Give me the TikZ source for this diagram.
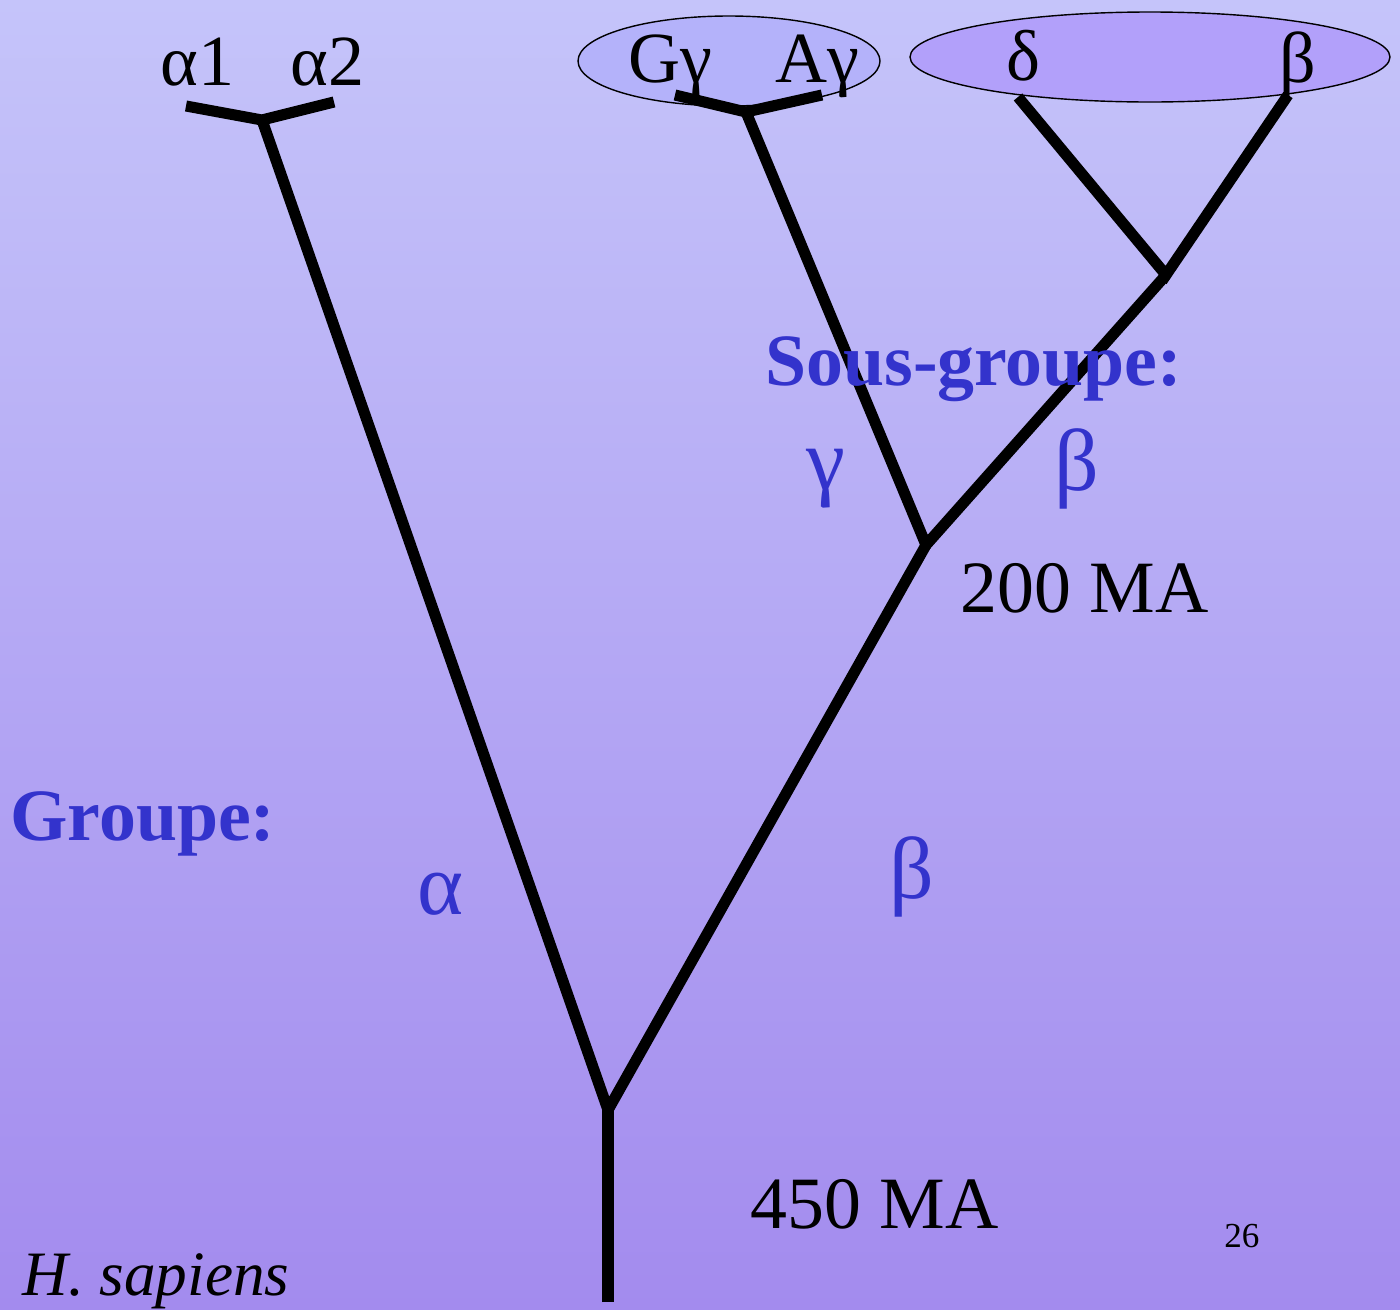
\documentclass[tikz,border=0pt]{standalone}
\usepackage{fontspec}
\setmainfont{Liberation Serif}
\definecolor{bgtop}{RGB}{197,196,250}
\definecolor{bgbot}{RGB}{163,139,238}
\definecolor{grpblue}{RGB}{51,51,204}
\definecolor{ovgamma}{RGB}{180,178,250}
\definecolor{ovbeta}{RGB}{178,160,250}
\tikzset{
  branch/.style={line width=6.3pt},
  tip/.style={anchor=base west,font=\fontsize{41}{46}\selectfont},
  age/.style={anchor=base west,font=\fontsize{42}{48}\selectfont},
  grp/.style={anchor=base west,text=grpblue,font=\fontsize{42}{50}\selectfont\bfseries},
  grk/.style={anchor=base west,text=grpblue,font=\fontsize{50}{56}\selectfont},
}
\begin{document}
\begin{tikzpicture}[x=0.02cm,y=-0.02cm,inner sep=0pt]
\useasboundingbox (0,0) rectangle (1400,1309);
\shade[top color=bgtop,bottom color=bgbot] (0,0) rectangle (1400,1309);
% gene clusters
\draw[fill=ovgamma,line width=0.8pt] (729,61) ellipse (151 and 45);
\draw[fill=ovbeta,line width=0.8pt] (1150,57) ellipse (240 and 45);
% tree
\coordinate (base) at (608,1302);
\coordinate (root) at (608,1110);
\coordinate (afork) at (262,120);
\coordinate (a1) at (186,106);
\coordinate (a2) at (334,102);
\coordinate (bfork) at (926,545);
\coordinate (gfork) at (746,112);
\coordinate (gg) at (675,95);
\coordinate (ag) at (822,95);
\coordinate (dbfork) at (1166,275);
\coordinate (d) at (1018,97);
\coordinate (b) at (1288,95);
\draw[branch] (base) -- (root);
\draw[branch] (afork) -- (root) -- (bfork);
\draw[branch] (gfork) -- (bfork) -- (dbfork);
\draw[branch] (a1) -- (afork) -- (a2);
\draw[branch] (gg) -- (gfork) -- (ag);
\draw[branch] (d) -- (dbfork) -- (b);
% labels
\node[tip] (la1) at (160,85) {α1};
\node[tip] (la2) at (290,85) {α2};
\node[tip] (lgg) at (628,82) {Gγ};
\node[tip] (lag) at (775,82) {Aγ};
\node[tip] (ld) at (1006,80) {δ};
\node[tip] (lb) at (1279,82) {β};
\node[grp] (sous) at (765,385) {Sous-groupe:};
\node[grk] (sg) at (806,489) {γ};
\node[grk] (sb) at (1054,490) {β};
\node[age] (ma200) at (960,612) {200 MA};
\node[grp] (groupe) at (10,840) {Groupe:};
\node[grk] (ga) at (417,914) {α};
\node[grk] (gb) at (889,898) {β};
\node[age] (ma450) at (750,1228) {450 MA};
\node[anchor=base west,font=\fontsize{20}{24}\selectfont] (page) at (1224,1247) {26};
\node[anchor=base west,font=\fontsize{36}{42}\selectfont\itshape] (hs) at (22,1295) {H. sapiens};
\end{tikzpicture}
\end{document}
